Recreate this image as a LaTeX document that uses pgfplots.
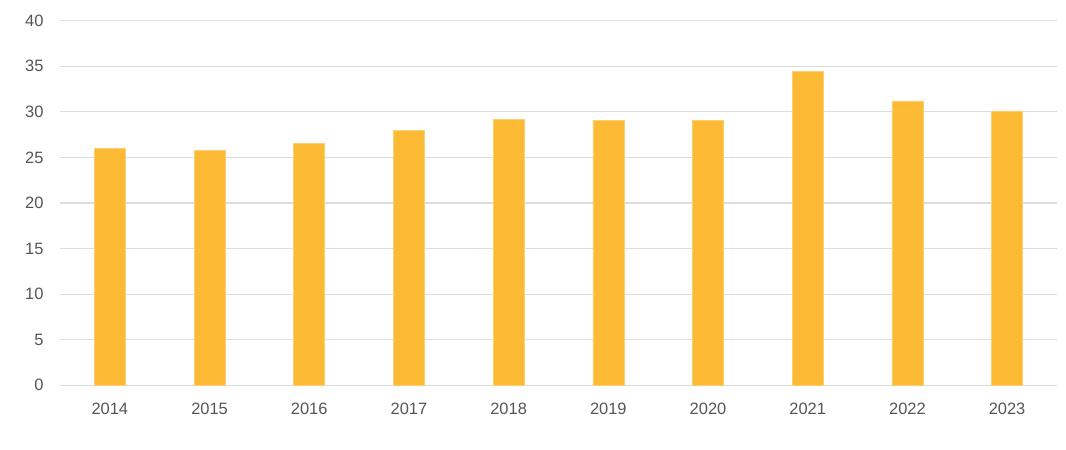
\documentclass[border=0pt]{standalone}
\usepackage{pgfplots}
\pgfplotsset{compat=1.18}
\usepackage{fontspec}
\setmainfont{Liberation Sans}
\definecolor{barc}{HTML}{FDBA35}
\definecolor{gridc}{HTML}{DDDDDD}
\definecolor{txtc}{HTML}{555555}
\begin{document}
\begin{tikzpicture}
\begin{axis}[
  at={(0,0)}, anchor=south west,
  scale only axis,
  width=997bp, height=364.6bp,
  xmin=-0.5, xmax=9.5,
  ymin=0, ymax=40,
  ytick={0,5,...,40},
  xtick={0,...,9},
  xticklabels={2014,2015,2016,2017,2018,2019,2020,2021,2022,2023},
  axis line style={draw=none},
  major tick length=0pt,
  ymajorgrids,
  grid style={gridc, line width=1.2bp},
  tick label style={font=\fontsize{16.5}{19}\selectfont, text=txtc},
  /pgf/number format/assume math mode=true,
  yticklabel style={xshift=-13bp},
  xticklabel style={yshift=-14bp},
  axis on top=false,
]
\addplot[ybar, bar width=31bp, fill=barc, draw=barc!70!white, line width=0.5bp]
  coordinates {(0,26.0) (1,25.8) (2,26.5) (3,28.0) (4,29.2) (5,29.1) (6,29.1) (7,34.4) (8,31.2) (9,30.1)};
\end{axis}
\path (-60bp,-64.7bp) rectangle (1006bp,385.3bp);
\end{tikzpicture}
\end{document}
